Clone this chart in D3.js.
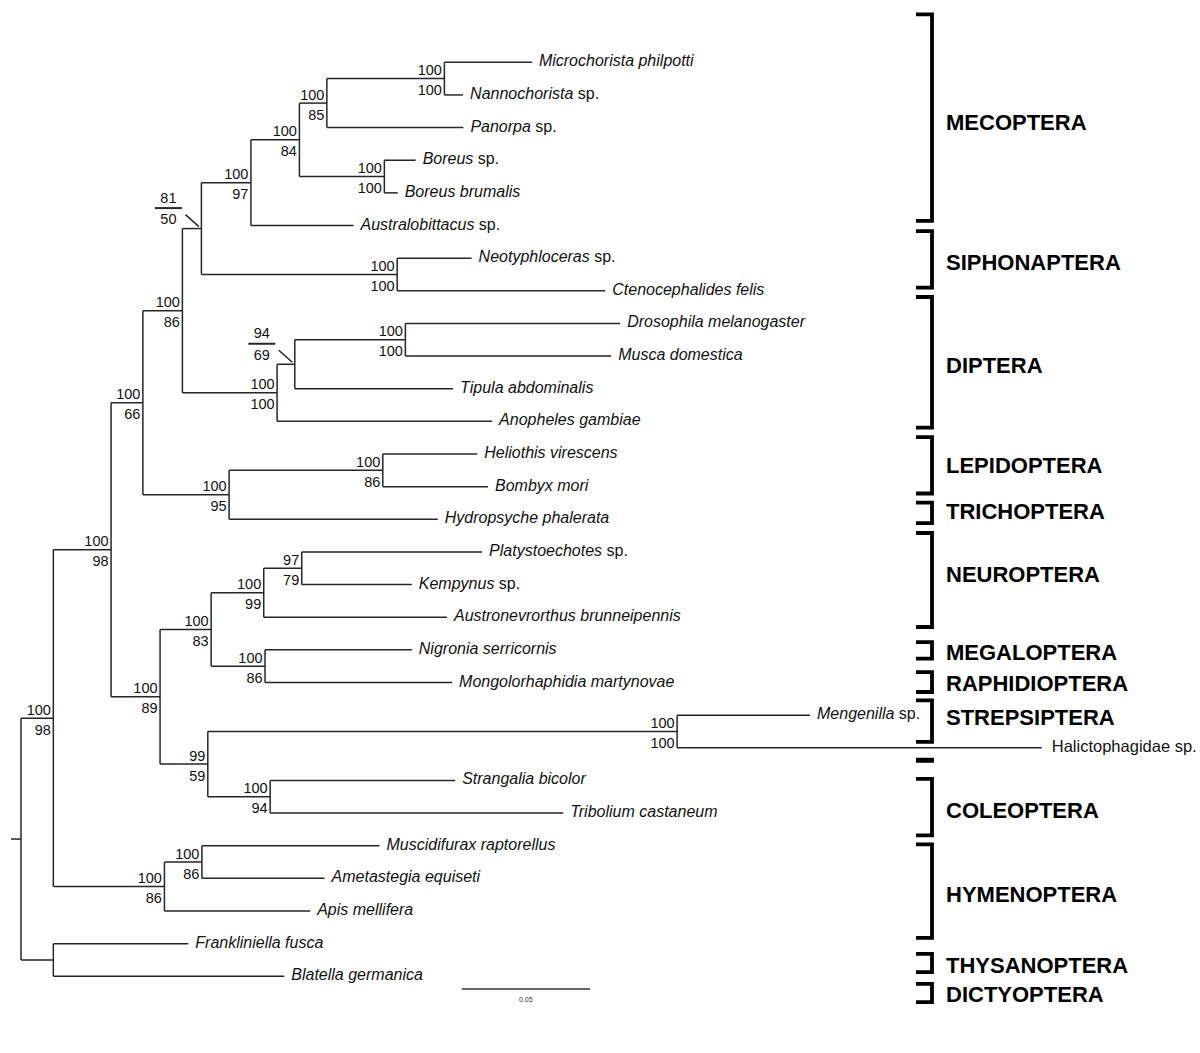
<!DOCTYPE html>
<html><head><meta charset="utf-8">
<script src="https://cdn.jsdelivr.net/npm/d3@7"></script>
<style>body{margin:0;background:#fff}svg{display:block}</style>
</head><body>
<svg id="chart" width="1200" height="1053"></svg>
<script>
// ---- data: tree edges [node, parent, branch length (subst./site)] in preorder ----
const treeEdges = [
  ["root", null, 0],
  ["n1","root",0.0126],
  ["n2","n1",0.0225],
  ["n3","n2",0.0124],
  ["n5","n3",0.0154],
  ["n_ms","n5",0.0074],
  ["n_mec","n_ms",0.0193],
  ["n_mec2","n_mec",0.0189],
  ["n_mnp","n_mec2",0.0107],
  ["n_mn","n_mnp",0.0458],
  ["Microchorista philpotti","n_mn",0.0341],
  ["Nannochorista sp.","n_mn",0.0073],
  ["Panorpa sp.","n_mnp",0.0532],
  ["n_bor","n_mec2",0.0331],
  ["Boreus sp.","n_bor",0.0122],
  ["Boreus brumalis","n_bor",0.0052],
  ["Australobittacus sp.","n_mec",0.0400],
  ["n_siph","n_ms",0.0763],
  ["Neotyphloceras sp.","n_siph",0.0290],
  ["Ctenocephalides felis","n_siph",0.0811],
  ["n_dip","n5",0.0369],
  ["n_dmt","n_dip",0.0069],
  ["n_dm","n_dmt",0.0431],
  ["Drosophila melanogaster","n_dm",0.0837],
  ["Musca domestica","n_dm",0.0802],
  ["Tipula abdominalis","n_dmt",0.0617],
  ["Anopheles gambiae","n_dip",0.0838],
  ["n_lt","n3",0.0336],
  ["n_lep","n_lt",0.0599],
  ["Heliothis virescens","n_lep",0.0368],
  ["Bombyx mori","n_lep",0.0410],
  ["Hydropsyche phalerata","n_lt",0.0813],
  ["n4","n2",0.0191],
  ["n6","n4",0.0199],
  ["n_neur","n6",0.0205],
  ["n_pk","n_neur",0.0148],
  ["Platystoechotes sp.","n_pk",0.0703],
  ["Kempynus sp.","n_pk",0.0429],
  ["Austronevrorthus brunneipennis","n_neur",0.0714],
  ["n_mr","n6",0.0210],
  ["Nigronia serricornis","n_mr",0.0572],
  ["Mongolorhaphidia martynovae","n_mr",0.0729],
  ["n_cs","n4",0.0186],
  ["n_strep","n_cs",0.1829],
  ["Mengenilla sp.","n_strep",0.0518],
  ["Halictophagidae sp.","n_strep",0.1421],
  ["n_col","n_cs",0.0243],
  ["Strangalia bicolor","n_col",0.0721],
  ["Tribolium castaneum","n_col",0.1142],
  ["n_hym","n1",0.0433],
  ["n_ma","n_hym",0.0146],
  ["Muscidifurax raptorellus","n_ma",0.0692],
  ["Ametastegia equiseti","n_ma",0.0478],
  ["Apis mellifera","n_hym",0.0568],
  ["n_fb","root",0.0126],
  ["Frankliniella fusca","n_fb",0.0526],
  ["Blatella germanica","n_fb",0.0900]
];
const rootStub = 0.0039;

// ---- data: bootstrap support [node, upper value, lower value, fraction style] ----
const supportValues = [
  ["n1",100,98,false],["n2",100,98,false],["n3",100,66,false],["n5",100,86,false],
  ["n_ms",81,50,true],["n_mec",100,97,false],["n_mec2",100,84,false],["n_mnp",100,85,false],
  ["n_mn",100,100,false],["n_bor",100,100,false],["n_siph",100,100,false],["n_dip",100,100,false],
  ["n_dmt",94,69,true],["n_dm",100,100,false],["n_lt",100,95,false],["n_lep",100,86,false],
  ["n4",100,89,false],["n6",100,83,false],["n_neur",100,99,false],["n_pk",97,79,false],
  ["n_mr",100,86,false],["n_cs",99,59,false],["n_strep",100,100,false],["n_col",100,94,false],
  ["n_hym",100,86,false],["n_ma",100,86,false]
];

// taxa printed fully upright (not italic)
const uprightTaxa = ["Halictophagidae sp."];

// ---- data: order brackets [name, top, bottom, label] in leaf-row units ----
const orderNames  = ["MECOPTERA","SIPHONAPTERA","DIPTERA","LEPIDOPTERA","TRICHOPTERA","NEUROPTERA","MEGALOPTERA","RAPHIDIOPTERA","STREPSIPTERA","","COLEOPTERA","HYMENOPTERA","THYSANOPTERA","DICTYOPTERA"];
const orderTop    = [-1.47, 5.17, 7.19, 11.48, 13.49, 14.42, 17.76, 18.68, 19.55, 21.36, 21.95, 23.96, 27.31, 28.23];
const orderBottom = [ 4.86, 6.90, 11.19, 13.21, 14.12, 17.30, 18.27, 19.29, 20.82, 21.40, 23.68, 26.82, 27.87, 28.79];
const orderLabel  = [ 1.83, 6.12, 9.28, 12.35, 13.76, 15.67, 18.07, 19.02, 20.06, null, 22.92, 25.47, 27.67, 28.55];

const scaleBarValue = 0.05;

// ---- build ----
const svg = d3.select("#chart");
const FONT = "'Liberation Sans', Arial, Helvetica, sans-serif";
const LINE = "#262626";

const root = d3.stratify().id(d => d[0]).parentId(d => d[1])(treeEdges);
root.eachBefore(n => { n.dist = n.parent ? n.parent.dist + n.data[2] : 0; });

const leaves = root.leaves();
const x = d3.scaleLinear().domain([0, 0.05]).range([21, 149.3]);
const y = d3.scaleLinear().domain([0, leaves.length - 1]).range([62.3, 976.3]);

leaves.forEach((l, i) => { l.row = i; });
root.eachAfter(n => {
  if (n.children) n.row = (n.children[0].row + n.children[n.children.length - 1].row) / 2;
});

const g = svg.append("g").attr("fill", "none").attr("stroke", LINE).attr("stroke-width", 1.5);

// horizontal branches
root.descendants().forEach(n => {
  const x0 = n.parent ? x(n.parent.dist) : x(-rootStub);
  g.append("line").attr("x1", x0).attr("x2", x(n.dist))
    .attr("y1", y(n.row)).attr("y2", y(n.row));
});
// vertical connectors
root.descendants().filter(n => n.children).forEach(n => {
  const c = n.children;
  g.append("line").attr("x1", x(n.dist)).attr("x2", x(n.dist))
    .attr("y1", y(c[0].row)).attr("y2", y(c[c.length - 1].row));
});

// taxon labels
leaves.forEach(l => {
  const name = l.id;
  const t = svg.append("text")
    .attr("x", x(l.dist) + 7).attr("y", y(l.row)).attr("dy", "0.25em")
    .attr("font-family", FONT).attr("font-size", 16).attr("fill", "#111");
  if (uprightTaxa.includes(name)) {
    t.attr("x", x(l.dist) + 10).attr("font-size", 16.5).text(name);
  } else if (name.endsWith(" sp.")) {
    t.append("tspan").attr("font-style", "italic").text(name.slice(0, -4));
    t.append("tspan").text(" sp.");
  } else {
    t.attr("font-style", "italic").text(name);
  }
});

// support values
const byId = new Map(root.descendants().map(n => [n.id, n]));
supportValues.forEach(([id, a, b, frac]) => {
  const n = byId.get(id);
  const nx = x(n.dist), ny = y(n.row);
  const lab = svg.append("g").attr("font-family", FONT).attr("font-size", 14.5).attr("fill", "#111");
  if (!frac) {
    lab.append("text").attr("x", nx - 2.5).attr("y", ny - 3.5).attr("text-anchor", "end").text(a);
    lab.append("text").attr("x", nx - 2.5).attr("y", ny + 16.5).attr("text-anchor", "end").text(b);
  } else {
    const cx = nx - 33;
    lab.append("text").attr("x", cx).attr("y", ny - 31).attr("dy", "0.35em").attr("text-anchor", "middle").text(a);
    lab.append("text").attr("x", cx).attr("y", ny - 9.5).attr("dy", "0.35em").attr("text-anchor", "middle").text(b);
    lab.append("line").attr("x1", cx - 13.5).attr("x2", cx + 13.5).attr("y1", ny - 20.5).attr("y2", ny - 20.5)
      .attr("stroke", LINE).attr("stroke-width", 2);
    lab.append("line").attr("x1", nx - 16).attr("y1", ny - 14).attr("x2", nx - 2.5).attr("y2", ny - 2)
      .attr("stroke", LINE).attr("stroke-width", 1.5);
  }
});

// order brackets
const bx = 932, btick = 16;
orderNames.forEach((name, i) => {
  const t = y(orderTop[i]), b = y(orderBottom[i]);
  svg.append("path")
    .attr("d", `M${bx - btick},${t}H${bx}V${b}H${bx - btick}`)
    .attr("fill", "none").attr("stroke", "#000").attr("stroke-width", 3.8)
    .attr("stroke-linejoin", "miter").attr("stroke-linecap", "butt");
  if (name) {
    svg.append("text").attr("x", 946).attr("y", y(orderLabel[i])).attr("dy", "0.36em")
      .attr("font-family", FONT).attr("font-weight", "bold").attr("font-size", 22)
      .attr("fill", "#000").text(name);
  }
});

// scale bar
const sbx = 461.7, sby = 989;
svg.append("line").attr("x1", sbx).attr("x2", sbx + (x(scaleBarValue) - x(0)))
  .attr("y1", sby).attr("y2", sby).attr("stroke", "#333").attr("stroke-width", 1.6);
svg.append("text").attr("x", sbx + (x(scaleBarValue) - x(0)) / 2).attr("y", sby + 12.5)
  .attr("text-anchor", "middle").attr("font-family", FONT).attr("font-size", 7).attr("fill", "#333")
  .text(scaleBarValue);
</script>
</body></html>
